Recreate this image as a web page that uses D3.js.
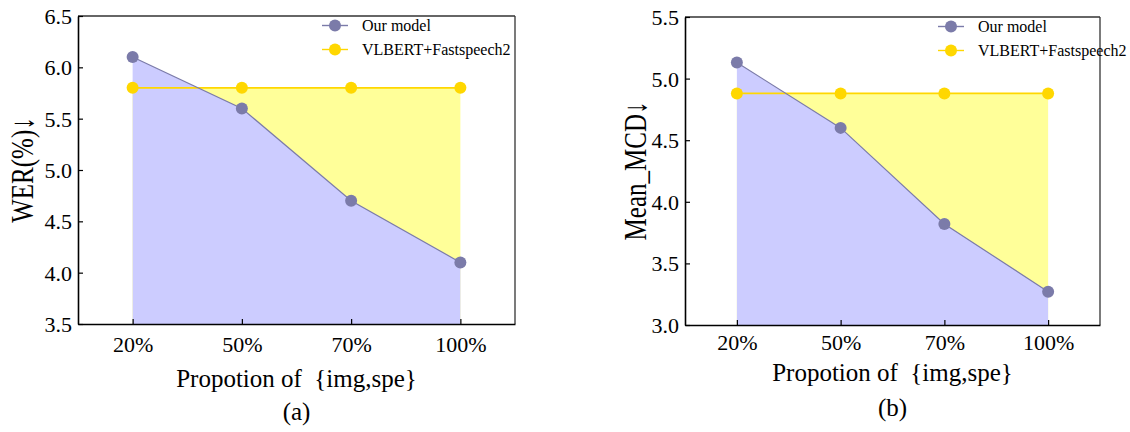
<!DOCTYPE html>
<html>
<head>
<meta charset="utf-8">
<script src="https://cdn.jsdelivr.net/npm/d3@7/dist/d3.min.js"></script>
<style>
  html, body { margin: 0; padding: 0; background: #fff; }
  svg { display: block; }
  svg text { font-family: "Liberation Serif", "Times New Roman", Times, serif !important; fill: #000; white-space: pre; }
</style>
</head>
<body>
<svg id="chart" width="1130" height="432"></svg>
<script>
// Categories shared by both panels
const categories = ["20%", "50%", "70%", "100%"];

// Panel (a): word error rate
const werOurs = [6.1, 5.6, 4.7, 4.1];
const werBaseline = [5.8, 5.8, 5.8, 5.8];
const werTicks = [3.5, 4.0, 4.5, 5.0, 5.5, 6.0, 6.5];

// Panel (b): mean mel-cepstral distortion
const mcdOurs = [5.13, 4.6, 3.82, 3.27];
const mcdBaseline = [4.88, 4.88, 4.88, 4.88];
const mcdTicks = [3.0, 3.5, 4.0, 4.5, 5.0, 5.5];

const seriesNames = ["Our model", "VLBERT+Fastspeech2"];

const COLORS = {
  ours: "#7b7ba9",
  oursFill: "#ccccff",
  base: "#ffd700",
  baseFill: "#ffff99"
};

const svg = d3.select("#chart");

function panel(cfg) {
  const { left, top, right, bottom } = cfg.box;
  const g = svg.append("g");

  const x = d3.scalePoint().domain(categories).range([left, right]).padding(0.5);
  const y = d3.scaleLinear().domain(cfg.yDomain).range([bottom, top]);

  const area = vals => d3.area()
    .x((d, i) => x(categories[i]))
    .y0(y(cfg.yDomain[0]))
    .y1(d => y(d))(vals);
  const line = vals => d3.line()
    .x((d, i) => x(categories[i]))
    .y(d => y(d))(vals);

  // filled regions: baseline first, our model on top
  g.append("path").attr("d", area(cfg.base)).attr("fill", COLORS.baseFill);
  g.append("path").attr("d", area(cfg.ours)).attr("fill", COLORS.oursFill);

  // lines
  g.append("path").attr("d", line(cfg.base)).attr("fill", "none")
    .attr("stroke", COLORS.base).attr("stroke-width", 1.6);
  g.append("path").attr("d", line(cfg.ours)).attr("fill", "none")
    .attr("stroke", COLORS.ours).attr("stroke-width", 1.2);

  // markers
  g.selectAll(".mb").data(cfg.base).join("circle")
    .attr("cx", (d, i) => x(categories[i])).attr("cy", d => y(d))
    .attr("r", 6).attr("fill", COLORS.base);
  g.selectAll(".mo").data(cfg.ours).join("circle")
    .attr("cx", (d, i) => x(categories[i])).attr("cy", d => y(d))
    .attr("r", 6).attr("fill", COLORS.ours);

  // frame: top and right
  g.append("line").attr("x1", left).attr("x2", right).attr("y1", top).attr("y2", top)
    .attr("stroke", "#333").attr("stroke-width", 1.3);
  g.append("line").attr("x1", right).attr("x2", right).attr("y1", top).attr("y2", bottom)
    .attr("stroke", "#333").attr("stroke-width", 1.3);

  // axes with inward ticks
  const yAxis = g.append("g").attr("transform", `translate(${left},0)`)
    .call(d3.axisLeft(y).tickValues(cfg.yTicks).tickFormat(d3.format(".1f"))
      .tickSizeInner(-5).tickSizeOuter(0).tickPadding(6));
  const xAxis = g.append("g").attr("transform", `translate(0,${bottom})`)
    .call(d3.axisBottom(x).tickSizeInner(-5).tickSizeOuter(0).tickPadding(10));

  [yAxis, xAxis].forEach(ax => {
    ax.attr("font-family", null).attr("font-size", null);
    ax.select(".domain").attr("stroke", "#000").attr("stroke-width", 1.6);
    ax.selectAll(".tick line").attr("stroke", "#000").attr("stroke-width", 1.2);
    ax.selectAll(".tick text").attr("font-size", 22).attr("fill", "#000");
  });
  yAxis.selectAll(".tick text").attr("dy", "0.34em");
  xAxis.selectAll(".tick text").attr("dy", cfg.xTickDy);

  // axis titles
  g.append("text")
    .attr("transform", `translate(${cfg.yTitleX},${(top + bottom) / 2}) rotate(-90) scale(1,1.3)`)
    .attr("text-anchor", "middle").attr("font-size", 25).text(cfg.yTitle);
  g.append("text").attr("x", (left + right) / 2).attr("y", cfg.xTitleY)
    .attr("text-anchor", "middle").attr("font-size", 25).text("Propotion of  {img,spe}");
  g.append("text").attr("x", (left + right) / 2).attr("y", cfg.labelY)
    .attr("text-anchor", "middle").attr("font-size", 25).text(cfg.label);

  // legend
  const lg = g.append("g").attr("transform", `translate(${cfg.legendX},${top})`);
  [[seriesNames[0], COLORS.ours], [seriesNames[1], COLORS.base]].forEach(([name, c], i) => {
    const ly = 9.5 + i * 24;
    lg.append("line").attr("x1", -13).attr("x2", 13).attr("y1", ly).attr("y2", ly)
      .attr("stroke", c).attr("stroke-width", 1.4);
    lg.append("circle").attr("cx", 0).attr("cy", ly).attr("r", 6).attr("fill", c);
    lg.append("text").attr("x", 27).attr("y", ly).attr("dy", "0.33em")
      .attr("font-size", 16).text(name);
  });
}

panel({
  box: { left: 78, top: 16, right: 515, bottom: 324 },
  yDomain: [3.5, 6.5], yTicks: werTicks,
  ours: werOurs, base: werBaseline,
  yTitle: "WER(%)↓", yTitleX: 33,
  xTickDy: "0.8em",
  xTitleY: 387, label: "(a)", labelY: 420,
  legendX: 335
});

panel({
  box: { left: 685, top: 17, right: 1100, bottom: 325 },
  yDomain: [3.0, 5.5], yTicks: mcdTicks,
  ours: mcdOurs, base: mcdBaseline,
  yTitle: "Mean_MCD↓", yTitleX: 646,
  xTickDy: "0.7em",
  xTitleY: 381, label: "(b)", labelY: 416,
  legendX: 951
});
</script>
</body>
</html>
